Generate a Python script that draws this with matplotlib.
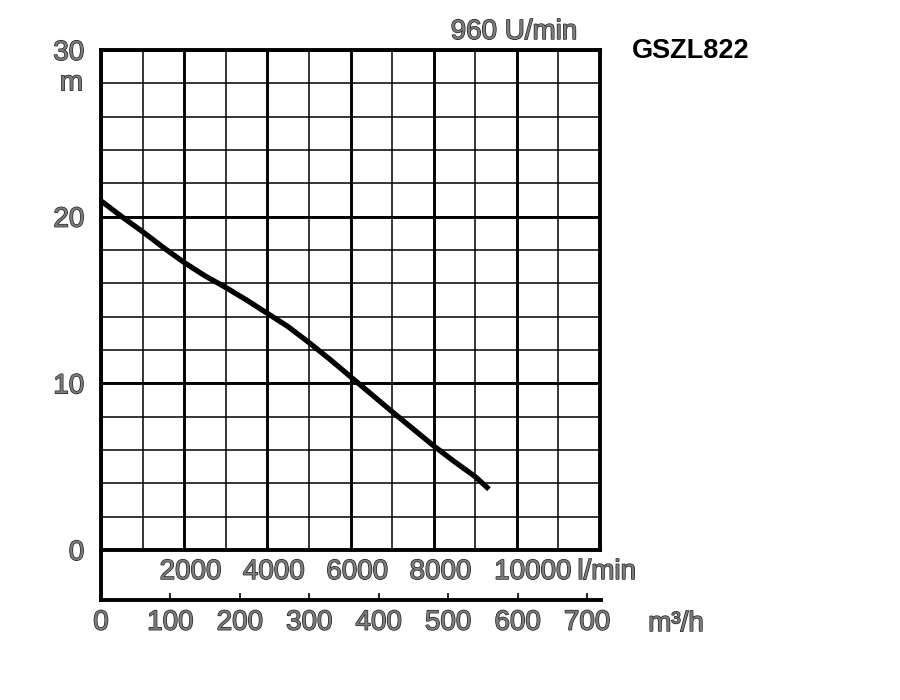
import matplotlib.pyplot as plt
import matplotlib.patheffects as pe

# pump curve GSZL822
flow_lmin = [0, 500, 1000, 1500, 2000, 2500, 3000, 3500, 4000, 4500, 5000,
             5500, 6000, 7000, 8000, 8500, 9000, 9330]
head_m = [20.95, 20.0, 19.1, 18.15, 17.25, 16.45, 15.75, 15.0, 14.2, 13.4, 12.45,
          11.45, 10.4, 8.3, 6.25, 5.3, 4.4, 3.65]

lmin_labels = [2000, 4000, 6000, 8000, 10000]
m3h_ticks = [0, 100, 200, 300, 400, 500, 600, 700]
head_ticks = [0, 10, 20, 30]

plt.rcParams['font.family'] = ['Liberation Sans', 'DejaVu Sans']
txt_col = '#7c7c7c'
outline = [pe.withStroke(linewidth=1.0, foreground='#202020')]

fig = plt.figure(figsize=(9, 7), dpi=100)
ax = fig.add_axes([101 / 900, 1 - 550 / 700, 499 / 900, 500 / 700])
band = fig.add_axes([101 / 900, 1 - 600 / 700, 500 / 900, 50 / 700])

# grid
for v in range(0, 12001, 1000):
    ax.axvline(v, color='black', lw=2.1 if v % 2000 == 0 else 1.1, zorder=1)
for h in range(0, 31, 2):
    ax.axhline(h, color='black', lw=1.1, zorder=1)
for h in head_ticks:
    ax.axhline(h, color='black', lw=2.1, zorder=1)

ax.plot(flow_lmin, head_m, color='black', lw=3.8, solid_capstyle='butt',
        solid_joinstyle='round', zorder=3)

ax.set_xlim(0, 12000)
ax.set_ylim(0, 30)
for s in ax.spines.values():
    s.set_linewidth(2.8)
ax.set_xticks([])
ax.set_yticks(head_ticks)
ax.set_yticklabels([str(t) for t in head_ticks], fontsize=20, color=txt_col)
for lab in ax.get_yticklabels():
    lab.set_path_effects(outline)
ax.tick_params(axis='y', length=0, pad=12)
ax.text(-0.036, 28.0, 'm', transform=ax.get_yaxis_transform(), ha='right', va='center',
        fontsize=20, color=txt_col, path_effects=outline)

# second scale band: l/min labels inside, m³/h on the bottom line
band.set_xlim(0, 720)
band.set_ylim(0, 1)
band.spines['top'].set_visible(False)
band.spines['right'].set_visible(False)
band.spines['left'].set_linewidth(2.8)
band.spines['bottom'].set_linewidth(2.8)
band.set_yticks([])
band.set_xticks(m3h_ticks)
band.set_xticklabels([str(t) for t in m3h_ticks], fontsize=20, color=txt_col)
for lab in band.get_xticklabels():
    lab.set_path_effects(outline)
band.tick_params(axis='x', direction='in', length=5, width=1.2, pad=7)
band.set_facecolor('none')

for v in lmin_labels:
    shift = 22 if v == 10000 else 9
    band.text(v * 0.06 + shift, 0.56, str(v), ha='center', va='center', fontsize=20,
              color=txt_col, path_effects=outline)
band.text(686, 0.56, 'l/min', ha='left', va='center', fontsize=20,
          color=txt_col, path_effects=outline)
band.text(788, -0.48, 'm³/h', ha='left', va='center', fontsize=20,
          color=txt_col, path_effects=outline, clip_on=False)

fig.text(514 / 900, 1 - 32 / 700, '960 U/min', ha='center', va='center', fontsize=20,
         color=txt_col, path_effects=outline)
fig.text(691 / 900, 1 - 51 / 700, 'GSZL822', ha='center', va='center', fontsize=19.5,
         fontweight='bold', color='black')

fig.savefig('out.png', dpi=100)
